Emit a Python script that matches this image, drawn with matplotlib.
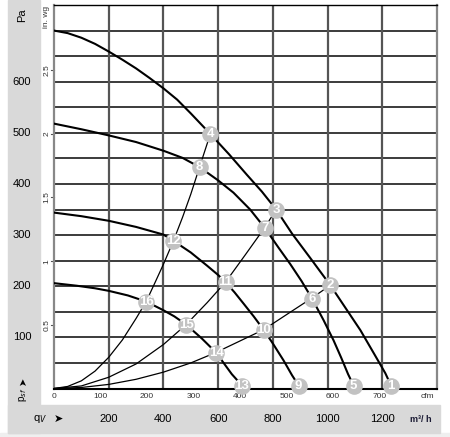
import matplotlib
matplotlib.use("Agg")
import matplotlib.pyplot as plt
from matplotlib.patches import Rectangle
from matplotlib.transforms import blended_transform_factory

# fan curves, q in m3/h, p in Pa
fan1_q = [0, 50, 100, 150, 200, 250, 300, 350, 400, 450, 500, 571, 640, 705, 760, 812,
          870, 937, 1010, 1060, 1120, 1170, 1211, 1232]
fan1_p = [700, 695, 686, 674, 659, 643, 626, 607, 587, 565, 538, 498, 458, 418, 385, 350,
          303, 255, 202, 162, 114, 68, 30, 6]
fan2_q = [0, 100, 200, 300, 400, 470, 532, 600, 656, 717, 772, 820, 864, 905, 943, 985,
          1022, 1050, 1075, 1095]
fan2_p = [518, 507, 495, 482, 465, 451, 433, 407, 383, 350, 313, 276, 243, 210, 176, 134,
          94, 60, 28, 6]
fan3_q = [0, 100, 200, 300, 400, 436, 500, 560, 600, 627, 660, 693, 730, 766, 800, 839,
          870, 894]
fan3_p = [344, 337, 328, 316, 301, 289, 266, 240, 222, 208, 188, 166, 141, 115, 88, 55,
          26, 6]
fan4_q = [0, 83, 150, 200, 270, 337, 400, 440, 483, 540, 593, 620, 650, 687]
fan4_p = [206, 201, 196, 191, 182, 170, 153, 141, 125, 98, 70, 50, 28, 6]

# system curves through the operating points
sys1_q = [0, 50, 100, 150, 200, 250, 300, 337, 370, 400, 436, 470, 500, 532, 571]
sys1_p = [0, 4, 15, 34, 61, 95, 137, 170, 208, 243, 288, 335, 380, 433, 497]
sys2_q = [0, 100, 200, 300, 400, 483, 560, 627, 700, 772, 812]
sys2_p = [0, 5, 22, 48, 86, 125, 168, 208, 262, 316, 350]
sys3_q = [0, 100, 200, 300, 400, 500, 590, 680, 766, 860, 943, 1010]
sys3_p = [0, 2, 8, 18, 32, 50, 70, 93, 115, 148, 177, 202]

# numbered operating points
point_labels = [str(i) for i in range(1, 17)]
point_q = [1232, 1010, 812, 571, 1095, 943, 772, 532, 894, 766, 627, 436, 687, 593, 483, 337]
point_p = [4, 202, 350, 497, 4, 176, 313, 433, 4, 115, 208, 288, 4, 70, 125, 170]

pa_ticks = [100, 200, 300, 400, 500, 600]
inwg_ticks = ["0.5", "1", "1.5", "2", "2.5"]
cfm_ticks = [0, 100, 200, 300, 400, 500, 600, 700]
m3h_ticks = [200, 400, 600, 800, 1000, 1200]

PA_PER_INWG = 249.09
M3H_PER_CFM = 1.699

plt.rcParams["font.family"] = ["Liberation Sans", "DejaVu Sans"]

W, H = 450, 437
fig = plt.figure(figsize=(W / 100, H / 100), dpi=100)
fig.patch.set_facecolor("white")


def fx(px):
    return px / W


def fy(py):
    return 1 - py / H


# grey strips (behind everything)
fig.patches.append(Rectangle((0, 0), 1, fy(432.7), transform=fig.transFigure,
                             color="#efefef", zorder=-2))
fig.patches.append(Rectangle((fx(8), fy(432.7)), fx(32), 432.7 / H, transform=fig.transFigure,
                             color="#d9d9d9", zorder=-1))
fig.patches.append(Rectangle((fx(8), fy(432.7)), fx(432), 28 / H, transform=fig.transFigure,
                             color="#d9d9d9", zorder=-1))

ax = fig.add_axes([fx(54), fy(388.5), (437 - 54) / W, (388.5 - 5) / H])
ax.set_xlim(0, 1400)
ax.set_ylim(0, 750)
ax.set_xticks([])
ax.set_yticks([])

for p in range(50, 750, 50):
    ax.axhline(p, color="#1a1a1a", lw=1.2, zorder=1)
for q in range(200, 1400, 200):
    ax.axvline(q, color="#555555", lw=1.6, zorder=1)

ax.spines["top"].set_color("black")
ax.spines["top"].set_linewidth(1.0)
ax.spines["bottom"].set_color("black")
ax.spines["bottom"].set_linewidth(1.5)
ax.spines["left"].set_color("#888888")
ax.spines["left"].set_linewidth(1.6)
ax.spines["right"].set_color("#888888")
ax.spines["right"].set_linewidth(1.6)

for q, p in [(fan1_q, fan1_p), (fan2_q, fan2_p), (fan3_q, fan3_p), (fan4_q, fan4_p)]:
    ax.plot(q, p, color="black", lw=1.5, zorder=3, solid_joinstyle="round")
for q, p in [(sys1_q, sys1_p), (sys2_q, sys2_p), (sys3_q, sys3_p)]:
    ax.plot(q, p, color="black", lw=0.9, zorder=3, solid_joinstyle="round")

ax.plot(point_q, point_p, "o", ms=12, color="#c2c2c2", mec="none", zorder=5, clip_on=False)
for lab, q, p in zip(point_labels, point_q, point_p):
    ax.text(q, p, lab, color="white", fontsize=9.5, ha="center", va="center",
            family=["Liberation Sans Narrow", "Liberation Sans"], fontweight="bold",
            zorder=6, clip_on=False)

# left strip: Pa
ytr = blended_transform_factory(fig.transFigure, ax.transData)
for p in pa_ticks:
    ax.text(fx(22), p, str(p), transform=ytr, fontsize=8, ha="center", va="center")
fig.text(fx(22), fy(15), "Pa", fontsize=8, rotation=90, ha="center", va="center")
fig.text(fx(23), fy(381), "\u27a4", fontsize=7, rotation=90, ha="center", va="center",
         family=["DejaVu Sans"])
fig.text(fx(23), fy(395), "p$_{sf}$", fontsize=7, rotation=90, ha="center", va="center")

# in. wg scale
for t in inwg_ticks:
    p = float(t) * PA_PER_INWG
    ax.text(fx(47), p, t, transform=ytr, fontsize=6, rotation=90, ha="center", va="center",
            color="#333333")
    ax.plot([fx(50.5), fx(54)], [p, p], transform=ytr, color="#555555", lw=0.8, clip_on=False)
fig.text(fx(47), fy(17), "in. wg", fontsize=6, rotation=90, ha="center", va="center",
         color="#333333")

# cfm scale
xtr = blended_transform_factory(ax.transData, fig.transFigure)
for c in cfm_ticks:
    ax.text(c * M3H_PER_CFM, fy(396), str(c), transform=xtr, fontsize=6, ha="center",
            va="center", color="#333333")
fig.text(fx(427), fy(396), "cfm", fontsize=6, ha="center", va="center", color="#333333")

# m3/h scale
for m in m3h_ticks:
    ax.text(m, fy(419), str(m), transform=xtr, fontsize=8, ha="center", va="center")
fig.text(fx(421), fy(419), "m\u00b3/ h", fontsize=6.5, ha="center", va="center",
         fontweight="bold", color="#1a1a33")
fig.text(fx(40), fy(419), "q$_V$", fontsize=8, ha="center", va="center")
fig.text(fx(58), fy(419), "\u27a4", fontsize=8, ha="center", va="center", family=["DejaVu Sans"])

fig.savefig("out.png", dpi=100)
